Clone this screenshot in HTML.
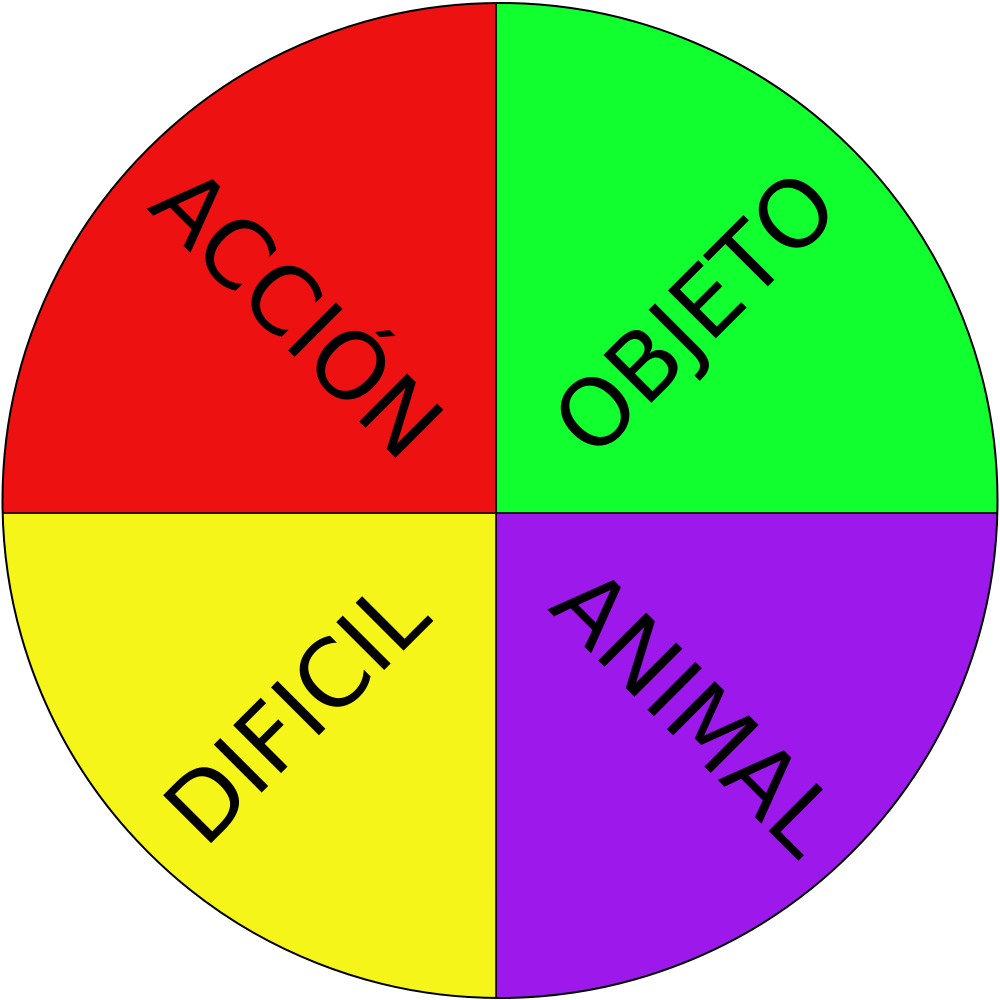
<!DOCTYPE html>
<html><head><meta charset="utf-8"><style>
html,body{margin:0;padding:0;background:#fff;width:1000px;height:1000px;overflow:hidden;}
svg{display:block;position:absolute;left:0;top:0;}
</style></head><body>
<svg id="chart" width="1000" height="1000" viewBox="0 0 1000 1000" xmlns="http://www.w3.org/2000/svg">
<defs><clipPath id="circ"><circle cx="500" cy="500.5" r="497.5"/></clipPath></defs>
<g id="slices" clip-path="url(#circ)"></g>
<circle cx="500" cy="500.5" r="497.5" fill="none" stroke="#000" stroke-width="2"/>
<g id="labels"></g>
</svg>
<script>
const categories = ["OBJETO", "ANIMAL", "DIFICIL", "ACCIÓN"];
const values = [1, 1, 1, 1];
const colors = ["#11FF2F", "#9D18EB", "#F5F51A", "#ED1111"];
const startAngle = -90;

const NS = "http://www.w3.org/2000/svg";
const cx = 496, cy = 513, R = 1500, labelDist = 282;
const gS = document.getElementById("slices"), gL = document.getElementById("labels");
const total = values.reduce((a, b) => a + b, 0);
let a0 = startAngle;
function pt(a, r) { const t = a * Math.PI / 180; return [cx + r * Math.cos(t), cy + r * Math.sin(t)]; }
values.forEach((v, i) => {
  const a1 = a0 + v / total * 360;
  const [x0, y0] = pt(a0, R), [x1, y1] = pt(a1, R);
  const large = (a1 - a0) > 180 ? 1 : 0;
  const p = document.createElementNS(NS, "path");
  p.setAttribute("d", `M${cx},${cy} L${x0},${y0} A${R},${R} 0 ${large} 1 ${x1},${y1} Z`);
  p.setAttribute("fill", colors[i]);
  p.setAttribute("stroke", "#000");
  p.setAttribute("stroke-width", "1.5");
  
  
  gS.appendChild(p);
  const mid = (a0 + a1) / 2;
  const [lx, ly] = pt(mid, labelDist);
  let rot = ((mid % 360) + 360) % 360;
  while (rot > 90) rot -= 180;
  const t = document.createElementNS(NS, "text");
  t.setAttribute("x", lx); t.setAttribute("y", ly);
  t.setAttribute("text-anchor", "middle");
  t.setAttribute("dominant-baseline", "central");
  t.setAttribute("font-family", "DejaVu Sans, Liberation Sans, sans-serif");
  t.setAttribute("font-size", "93");
  t.setAttribute("fill", "#000");
  t.setAttribute("transform", `rotate(${rot} ${lx} ${ly})`);
  t.textContent = categories[i];
  
  
  gL.appendChild(t);
  a0 = a1;
});
</script>
</body></html>
